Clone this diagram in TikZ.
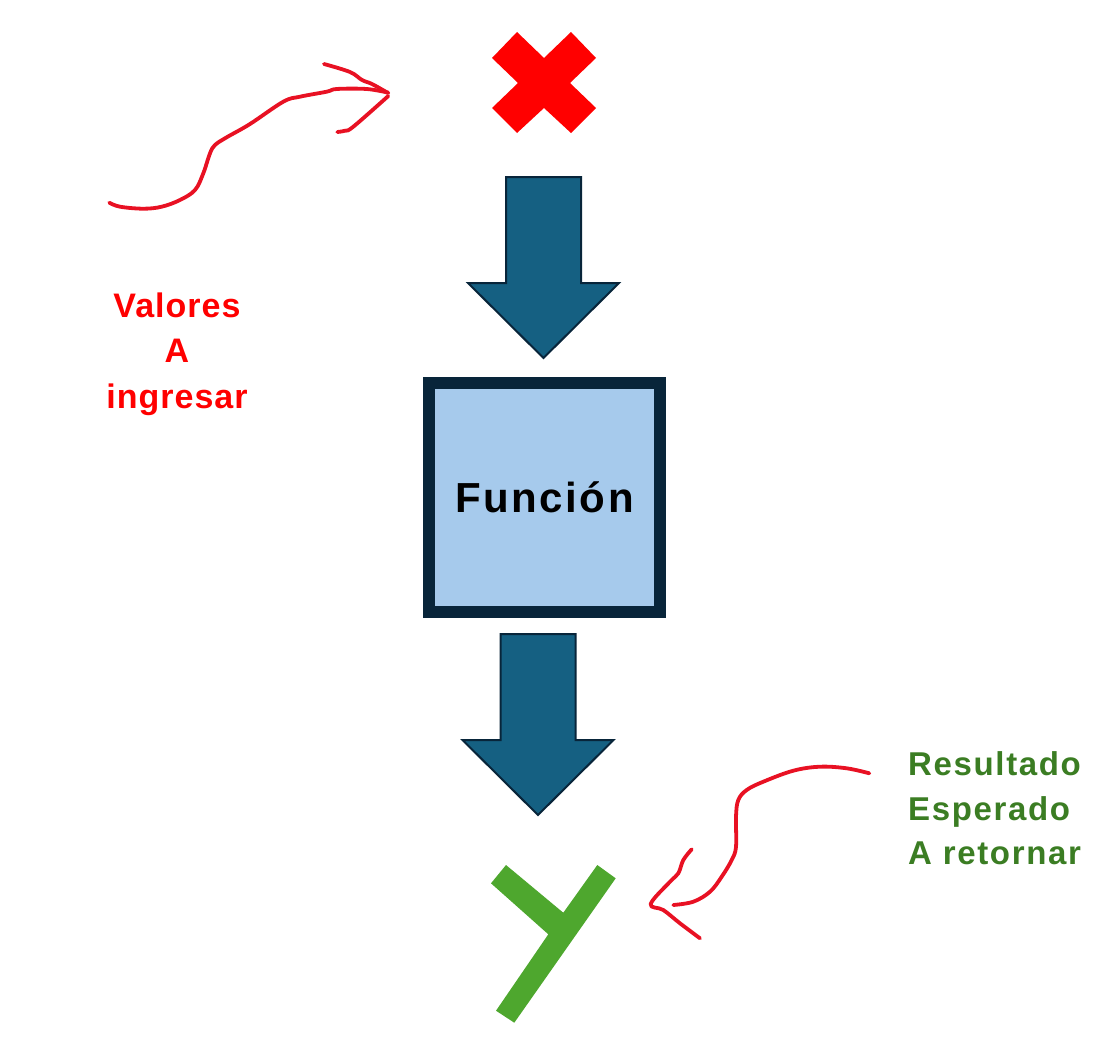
\documentclass[tikz,border=0pt]{standalone}
\usepackage{fontspec}
\setmainfont{Liberation Sans}
\usetikzlibrary{positioning}
\definecolor{arrowblue}{RGB}{21,96,130}
\definecolor{darknavy}{RGB}{8,37,58}
\definecolor{boxblue}{RGB}{166,202,236}
\definecolor{inkred}{RGB}{232,17,35}
\definecolor{crossred}{RGB}{255,0,0}
\definecolor{okgreen}{RGB}{78,167,46}
\definecolor{textgreen}{RGB}{59,125,35}
\def\blockdown#1#2{
  % 1: x of the axis
  % 2: y of the top edge
  \begin{scope}[shift={(#1,#2)}]
    \draw[blockarrow] (-37.5,0) -- (37.5,0) -- (37.5,106) -- (75.5,106) -- (0,181)
      -- (-75.5,106) -- (-37.5,106) -- cycle;
  \end{scope}
}
\begin{document}
\begin{tikzpicture}[x=1pt,y=-1pt,
    blockarrow/.style={fill=arrowblue,draw=darknavy,line width=2pt,line join=miter},
    ink/.style={draw=inkred,line width=3.8pt,line cap=round,line join=round},
    funcbox/.style={draw=darknavy,fill=boxblue,line width=12pt,minimum width=231pt,
      minimum height=229pt,font=\bfseries\addfontfeatures{LetterSpace=6}\fontsize{42}{50}\selectfont},
    label/.style={inner sep=0pt}]
  \useasboundingbox (0,0) rectangle (1107,1054);
  % the input mark
  \fill[crossred] (517,32) -- (544,58) -- (571,32) -- (596,58) -- (570,83) -- (596,108)
    -- (571,133) -- (544,108) -- (517,133) -- (492,108) -- (518,83) -- (492,58) -- cycle;
  % \blockdown{x}{top}
  \blockdown{543.5}{177}
  \node[funcbox] (func) at (544.5,497.5) {Funci\'on};
  \blockdown{538}{634}
  % the output mark
  \fill[okgreen] (506,865) -- (563.3,912.7) -- (597.3,865) -- (615.7,878.3) -- (514.3,1022.7)
    -- (496,1010.7) -- (548.3,934.3) -- (491,883.3) -- cycle;
  % notes (base = last line)
  \node[label,text=crossred,align=center,anchor=base,
    font=\bfseries\addfontfeatures{LetterSpace=3}\fontsize{34}{45.5}\selectfont]
    (valores) at (177,408.3) {Valores\\A\\ingresar};
  \node[label,text=textgreen,align=left,anchor=base west,
    font=\bfseries\addfontfeatures{LetterSpace=5}\fontsize{33}{44.5}\selectfont]
    (resultado) at (908,864.5) {Resultado\\Esperado\\A retornar};
  % hand drawn arrows
  \draw[ink] plot[smooth,tension=0.6] coordinates {(109.3,202.7) (120,206.7) (143.3,208.7)
    (161.7,206.7) (180,200) (195,190) (203.3,173.3) (210,153.3) (215,145) (226.7,137.3)
    (250,124) (283.3,101.7) (300,96.7) (326.7,91.7) (336.7,89) (366.7,89) (388.3,92.7)};
  \draw[ink] plot[smooth,tension=0.6] coordinates {(324,64) (350,72) (362,80) (372,84) (388,93)};
  \draw[ink] plot[smooth,tension=0.6] coordinates {(388.3,96) (353.3,126.7) (345,130.7) (337.3,132)};
  \draw[ink] plot[smooth,tension=0.6] coordinates {(869.3,773.3) (846.7,768.3) (820,766.7)
    (793.3,770.7) (763.3,781.7) (746.7,790) (738.3,800) (736,816.7) (736,846.7) (731.7,860)
    (721.7,876.7) (710,891.7) (693.3,901.7) (673.3,905)};
  \draw[ink] plot[smooth,tension=0.6] coordinates {(691.7,849.3) (683.3,860) (678.3,873.3)
    (670,881.7) (650.7,904) (663.3,910) (680,923.3) (700,938.3)};
\end{tikzpicture}
\end{document}
